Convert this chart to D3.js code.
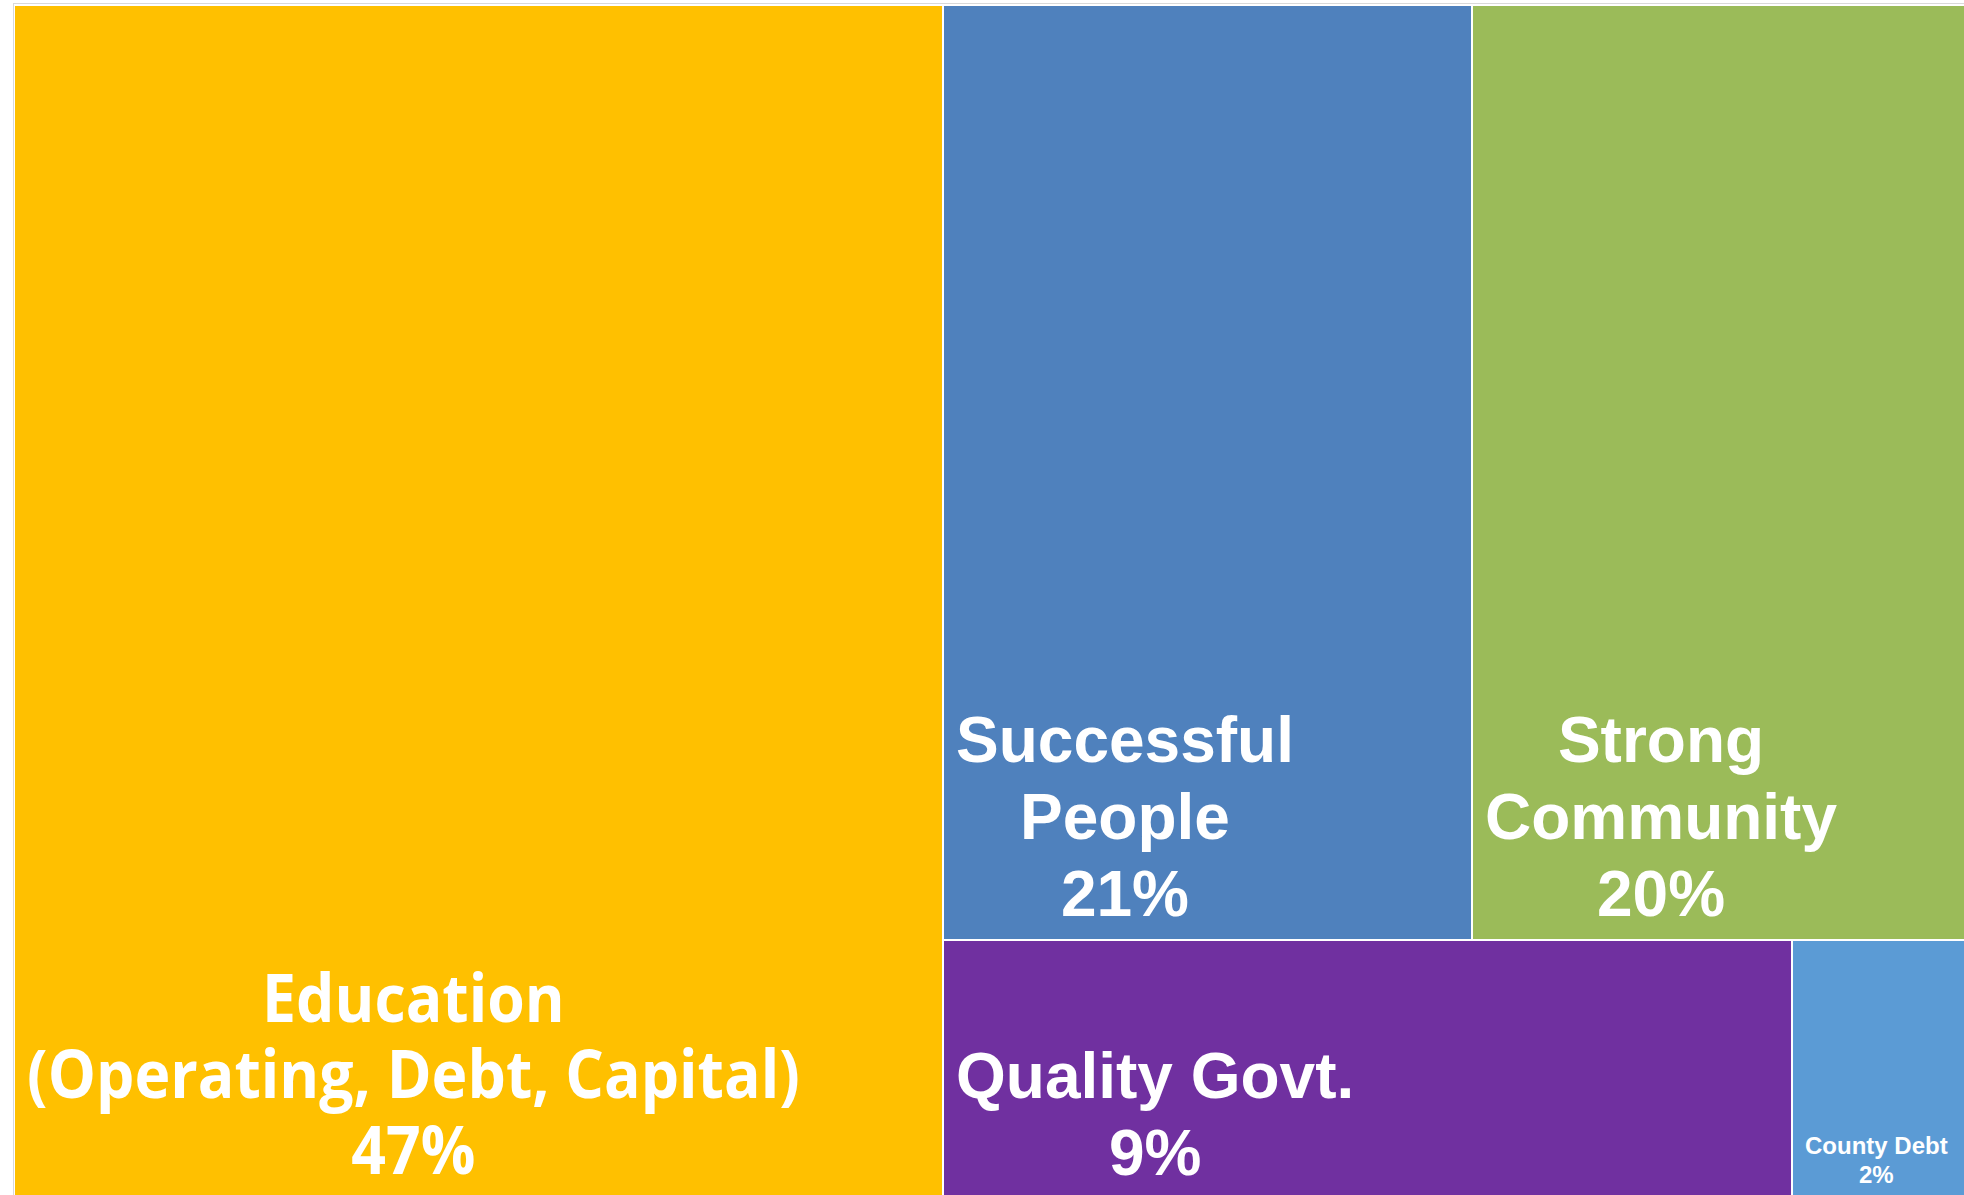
<!DOCTYPE html>
<html>
<head>
<meta charset="utf-8">
<script src="https://cdn.jsdelivr.net/npm/d3@7"></script>
<style>
  body { margin: 0; background: #fff; }
  svg { display: block; }
</style>
</head>
<body>
<svg width="1964" height="1195"></svg>
<script>
// the data
var categories = ["Education", "Successful People", "Strong Community", "Quality Govt.", "County Debt"];
var labelLines = [
  ["Education", "(Operating, Debt, Capital)"],
  ["Successful", "People"],
  ["Strong", "Community"],
  ["Quality Govt."],
  ["County Debt"]
];
var shares = [47.4, 21.1, 19.8, 9.4, 1.95];   // percent of total
var colors = ["#FFC000", "#4F81BD", "#9BBB59", "#7030A0", "#5B9BD5"];

var svg = d3.select("svg"),
    marginLeft = 15, marginTop = 6,
    width = 1952, height = 1192;

// label styles per tile
var labelStyle = {
  "Education":         { font: "'Open Sans', 'Noto Sans', sans-serif", size: 66, lh: 1.15, sx: 0.92 },
  "Successful People": { font: "'Liberation Sans', Arial, sans-serif", size: 64, lh: 1.2, sx: 1 },
  "Strong Community":  { font: "'Liberation Sans', Arial, sans-serif", size: 64, lh: 1.2, sx: 1 },
  "Quality Govt.":     { font: "'Liberation Sans', Arial, sans-serif", size: 64, lh: 1.2, sx: 1 },
  "County Debt":       { font: "'Liberation Sans', Arial, sans-serif", size: 24, lh: 1.2, sx: 1 }
};

var data = categories.map(function(c, i) {
  return { name: c, lines: labelLines[i], value: shares[i], color: colors[i] };
});

var root = d3.hierarchy({ children: data })
    .sum(function(d) { return d.value || 0; })
    .sort(function(a, b) { return b.value - a.value; });

d3.treemap()
    .tile(d3.treemapSquarify)
    .size([width, height])
    .paddingInner(2)
    .round(true)(root);

// faint chart border
svg.append("rect")
    .attr("x", 13.5).attr("y", 3.5)
    .attr("width", 2000).attr("height", 1300)
    .attr("fill", "none")
    .attr("stroke", "#d9d9d9")
    .attr("stroke-width", 1);

var g = svg.append("g").attr("transform", "translate(" + marginLeft + "," + marginTop + ")");

var cell = g.selectAll("g.cell")
    .data(root.leaves())
    .enter().append("g")
    .attr("class", "cell");

cell.append("rect")
    .attr("x", function(d) { return d.x0; })
    .attr("y", function(d) { return d.y0; })
    .attr("width", function(d) { return d.x1 - d.x0; })
    .attr("height", function(d) { return d.y1 - d.y0; })
    .attr("fill", function(d) { return d.data.color; });

// labels: lines centered on each other, block left aligned, anchored at the bottom
cell.each(function(d) {
  var st = labelStyle[d.data.name];
  var lines = d.data.lines.concat([Math.round(d.data.value) + "%"]);
  var lineH = st.size * st.lh;
  var lastBase = d.y1 - 10 - st.size * 0.21;
  var grp = d3.select(this).append("g");

  var texts = grp.selectAll("text")
      .data(lines)
      .enter().append("text")
      .attr("text-anchor", "middle")
      .attr("fill", "#fff")
      .attr("font-family", st.font)
      .attr("font-weight", "bold")
      .attr("font-size", st.size)
      .text(function(t) { return t; });

  var blockW = 0;
  texts.each(function() { blockW = Math.max(blockW, this.getComputedTextLength() * st.sx); });
  var cx = d.x0 + 12 + blockW / 2;

  texts.attr("transform", function(t, i) {
    var y = lastBase - (lines.length - 1 - i) * lineH;
    return "translate(" + cx + "," + y + ") scale(" + st.sx + ",1)";
  });
});
</script>
</body>
</html>
